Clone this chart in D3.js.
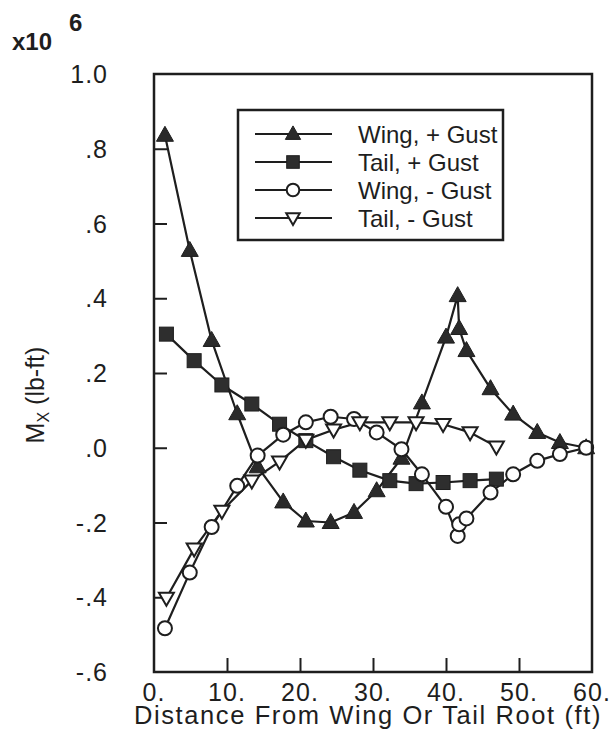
<!DOCTYPE html>
<html>
<head>
<meta charset="utf-8">
<script src="https://cdn.jsdelivr.net/npm/d3@7"></script>
<style>
  html, body { margin: 0; padding: 0; background: #fff; }
  svg { display: block; }
  text { font-family: "Liberation Sans", Arial, Helvetica, sans-serif; fill: #1e1e1e; }
</style>
</head>
<body>
<svg id="chart" width="613" height="755"></svg>
<script>
// ---------- data ----------
const wingX = [1.5, 4.9, 7.9, 11.4, 14.2, 17.7, 20.8, 24.2, 27.4, 30.5, 33.9, 36.7, 40.0, 41.6, 41.8, 42.8, 46.1, 49.2, 52.5, 55.6, 59.2];
const wingPlus = [0.836, 0.528, 0.287, 0.091, -0.051, -0.145, -0.196, -0.200, -0.173, -0.115, -0.028, 0.120, 0.296, 0.407, 0.319, 0.260, 0.158, 0.090, 0.041, 0.014, 0.000];
const wingMinus = [-0.483, -0.334, -0.212, -0.102, -0.021, 0.035, 0.068, 0.083, 0.077, 0.041, -0.004, -0.071, -0.158, -0.236, -0.205, -0.189, -0.120, -0.071, -0.035, -0.017, 0.000];

const tailX = [1.7, 5.5, 9.3, 13.4, 17.2, 20.8, 24.6, 28.2, 32.3, 35.9, 39.6, 43.3, 46.9];
const tailPlus = [0.304, 0.233, 0.168, 0.117, 0.063, 0.019, -0.024, -0.060, -0.088, -0.096, -0.093, -0.088, -0.084];
const tailMinus = [-0.402, -0.270, -0.169, -0.088, -0.037, 0.021, 0.048, 0.068, 0.068, 0.068, 0.063, 0.041, 0.003];

const xTickValues = [0, 10, 20, 30, 40, 50, 60];
const xTickLabels = ["0.", "10.", "20.", "30.", "40.", "50.", "60."];
const yTickValues = [1.0, 0.8, 0.6, 0.4, 0.2, 0.0, -0.2, -0.4, -0.6];
const yTickLabels = ["1.0", ".8", ".6", ".4", ".2", ".0", "-.2", "-.4", "-.6"];

const seriesNames = ["Wing, + Gust", "Tail, + Gust", "Wing, - Gust", "Tail, - Gust"];
const seriesMarkers = ["triUp", "square", "circle", "triDown"];

// ---------- layout ----------
const ink = "#1e1e1e";
const svg = d3.select("#chart");
const x = d3.scaleLinear().domain([0, 60]).range([154, 592]);
const y = d3.scaleLinear().domain([-0.6, 1.0]).range([672, 74]);

const series = [
  { name: seriesNames[0], marker: seriesMarkers[0], pts: wingX.map((v, i) => [v, wingPlus[i]]) },
  { name: seriesNames[1], marker: seriesMarkers[1], pts: tailX.map((v, i) => [v, tailPlus[i]]) },
  { name: seriesNames[2], marker: seriesMarkers[2], pts: wingX.map((v, i) => [v, wingMinus[i]]) },
  { name: seriesNames[3], marker: seriesMarkers[3], pts: tailX.map((v, i) => [v, tailMinus[i]]) }
];

function drawMarker(g, type, cx, cy, s) {
  const k = s || 1;
  if (type === "triUp") {
    const w = 8.5 * k, h = 15 * k;
    g.append("path").attr("d", `M${cx},${cy - h * 0.6}L${cx + w},${cy + h * 0.4}L${cx - w},${cy + h * 0.4}Z`)
      .attr("fill", "#2a2a2a").attr("stroke", ink).attr("stroke-width", 1);
  } else if (type === "square") {
    const a = 7 * k;
    g.append("rect").attr("x", cx - a).attr("y", cy - a).attr("width", 2 * a).attr("height", 2 * a)
      .attr("fill", "#2e2e2e").attr("stroke", ink).attr("stroke-width", 1);
  } else if (type === "circle") {
    g.append("circle").attr("cx", cx).attr("cy", cy).attr("r", 7 * k)
      .attr("fill", "#fff").attr("stroke", ink).attr("stroke-width", 2);
  } else {
    const w = 7.5 * k, h = 13 * k;
    g.append("path").attr("d", `M${cx},${cy + h * 0.6}L${cx + w},${cy - h * 0.4}L${cx - w},${cy - h * 0.4}Z`)
      .attr("fill", "#fff").attr("stroke", ink).attr("stroke-width", 2).attr("stroke-linejoin", "miter");
  }
}

// ---------- axes (ticks inside) ----------
const xAxis = d3.axisTop(x).tickValues(xTickValues.slice(1, -1)).tickSize(14).tickFormat("");
const gx = svg.append("g").attr("transform", `translate(0,${y(-0.6)})`).call(xAxis);
gx.select(".domain").remove();
gx.selectAll(".tick line").attr("stroke", ink).attr("stroke-width", 2);

const yAxis = d3.axisRight(y).tickValues(yTickValues.slice(1, -1)).tickSize(13).tickFormat("");
const gy = svg.append("g").attr("transform", `translate(${x(0)},0)`).call(yAxis);
gy.select(".domain").remove();
gy.selectAll(".tick line").attr("stroke", ink).attr("stroke-width", 2);

// tick labels
svg.append("g").selectAll("text").data(xTickValues).join("text")
  .attr("x", d => x(d)).attr("y", 701).attr("text-anchor", "middle")
  .attr("font-size", 25).style("letter-spacing", "1px")
  .text((d, i) => xTickLabels[i]);

svg.append("g").selectAll("text").data(yTickValues).join("text")
  .attr("x", 108).attr("y", d => y(d) + 9).attr("text-anchor", "end")
  .attr("font-size", 25).style("letter-spacing", "1px")
  .text((d, i) => yTickLabels[i]);

// ---------- series ----------
const line = d3.line().x(d => x(d[0])).y(d => y(d[1]));
const plot = svg.append("g");
series.forEach(s => {
  plot.append("path").attr("d", line(s.pts)).attr("fill", "none")
    .attr("stroke", ink).attr("stroke-width", 2.2).attr("stroke-linejoin", "round");
});
series.forEach(s => {
  const g = plot.append("g");
  s.pts.forEach(p => drawMarker(g, s.marker, x(p[0]), y(p[1])));
});

// frame
svg.append("rect").attr("x", x(0)).attr("y", y(1.0)).attr("width", x(60) - x(0)).attr("height", y(-0.6) - y(1.0))
  .attr("fill", "none").attr("stroke", ink).attr("stroke-width", 2.5);

// ---------- legend ----------
const leg = svg.append("g");
leg.append("rect").attr("x", 238).attr("y", 110).attr("width", 265).attr("height", 130)
  .attr("fill", "#fff").attr("stroke", ink).attr("stroke-width", 2.5);
const legRows = [134, 162, 190, 218];
series.forEach((s, i) => {
  const cy = legRows[i];
  leg.append("line").attr("x1", 255).attr("x2", 332).attr("y1", cy).attr("y2", cy)
    .attr("stroke", ink).attr("stroke-width", 2.2);
  drawMarker(leg, s.marker, 293, cy, 0.9);
  leg.append("text").attr("x", 358).attr("y", cy + 8.5).attr("font-size", 24).text(s.name);
});

// ---------- titles ----------
svg.append("text").attr("x", 368).attr("y", 724).attr("text-anchor", "middle")
  .attr("font-size", 25.5).style("letter-spacing", "1.6px")
  .text("Distance From Wing Or Tail Root (ft)");

const yl = svg.append("text").attr("transform", "translate(44,395) rotate(-90)")
  .attr("text-anchor", "middle").attr("font-size", 25);
yl.append("tspan").text("M");
yl.append("tspan").attr("font-size", 16).attr("dy", 5).text("X");
yl.append("tspan").attr("dy", -5).text(" (lb-ft)");

svg.append("text").attr("x", 12).attr("y", 50).attr("font-size", 24).attr("font-weight", "bold").text("x10");
svg.append("text").attr("x", 69).attr("y", 31).attr("font-size", 24).attr("font-weight", "bold").text("6");
</script>
</body>
</html>
